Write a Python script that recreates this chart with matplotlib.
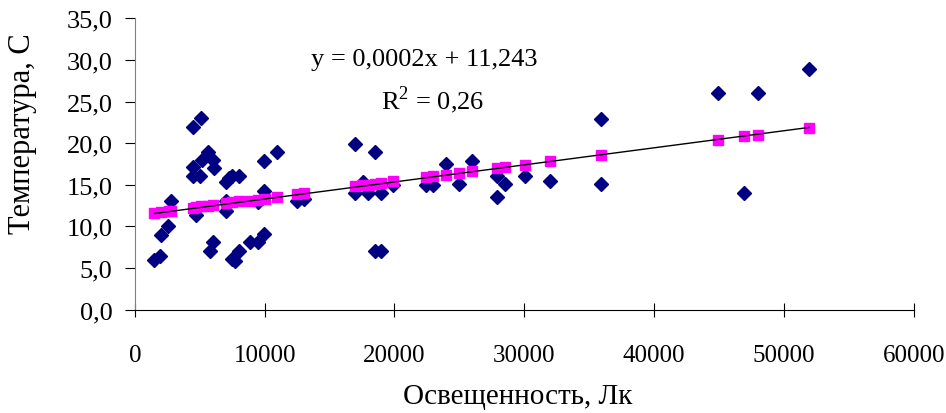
import matplotlib.pyplot as plt
import numpy as np

plt.rcParams['font.family'] = ['Liberation Serif', 'DejaVu Serif']
plt.rcParams['mathtext.fontset'] = 'custom'
plt.rcParams['mathtext.rm'] = 'Liberation Serif'

# measured points (lux, temperature)
lux = [1500, 1950, 2000, 2550, 2800, 4450, 5100, 5600, 5150, 6050,
       6100, 4450, 4450, 5050, 4750, 7000, 7250, 7500, 8000, 7000,
       7000, 6050, 5800, 7450, 7700, 8000, 8900, 9500, 9950, 9950,
       10950, 9950, 9500, 12470, 13000,
       16950, 18500, 16950, 17550, 17950, 18950, 19900, 18500, 18950, 22450,
       23000, 24000, 25000, 25950, 27900, 28500, 27900, 30050, 32000, 35900,
       35900, 44900, 46900, 48000, 51950]
temp = [6.0, 6.5, 9.0, 10.1, 13.1, 21.9, 23.0, 18.9, 18.0, 18.0,
        17.0, 17.1, 16.0, 16.0, 11.4, 15.3, 15.8, 16.1, 16.1, 13.1,
        11.9, 8.1, 7.1, 6.1, 5.9, 7.1, 8.1, 8.1, 9.1, 17.9,
        18.9, 14.2, 12.9, 13.0, 13.3,
        19.9, 18.9, 14.0, 15.3, 14.0, 14.0, 15.0, 7.0, 7.0, 15.0,
        15.0, 17.5, 15.1, 17.9, 16.1, 15.1, 13.5, 16.1, 15.4, 22.9,
        15.1, 26.0, 14.0, 26.0, 28.9]

# fitted values (pink squares)
lux_fit = [1500, 2000, 2600, 2800, 4450, 4750, 5100, 5600, 6050, 7000,
           7500, 8000, 8900, 9500, 10000, 10950, 12470, 13000, 16950, 17550,
           18000, 18500, 18950, 19900, 22450, 23000, 24000, 25000, 25950, 27900,
           28500, 30050, 32000, 35900, 44900, 46900, 48000, 51950]
temp_fit = [11.6, 11.7, 11.9, 11.9, 12.2, 12.3, 12.4, 12.5, 12.6, 12.8,
            12.9, 13.0, 13.1, 13.2, 13.3, 13.5, 13.9, 14.0, 14.8, 15.0,
            15.0, 15.1, 15.2, 15.4, 15.9, 16.0, 16.2, 16.4, 16.6, 17.0,
            17.1, 17.4, 17.8, 18.6, 20.4, 20.8, 21.0, 21.8]

slope = 0.000205
intercept = 11.243

fig = plt.figure(figsize=(9.46, 4.14), dpi=100)
ax = fig.add_axes([0.1425, 0.2495, 0.8235, 0.704])

ax.plot(lux, temp, 'D', color='#000080', ms=7.5, mec='#000080', zorder=3)
ax.plot(lux_fit, temp_fit, 's', color='#ff00ff', ms=7, zorder=4)
xx = np.array([min(lux), max(lux)])
ax.plot(xx, slope * xx + intercept, color='black', lw=1, zorder=5)

ax.set_xlim(0, 60000)
ax.set_ylim(0, 35)
ax.set_xticks(range(0, 60001, 10000))
ax.set_yticks(np.arange(0, 35.1, 5))
ax.set_yticklabels([('%.1f' % v).replace('.', ',') for v in np.arange(0, 35.1, 5)])

for s in ['top', 'right']:
    ax.spines[s].set_visible(False)
ax.spines['left'].set_color('#808080')
ax.spines['bottom'].set_color('black')
ax.tick_params(axis='x', direction='inout', length=10, labelsize=18, pad=20)
ax.tick_params(axis='y', direction='out', length=7, labelsize=19, pad=9)

ax.set_xlabel('Освещенность, Лк', fontsize=21, va='center')
ax.xaxis.set_label_coords(0.492, -0.296)
ax.set_ylabel('Температура, С', fontsize=22, va='center')
ax.yaxis.set_label_coords(-0.1448, 0.606)

fig.text(0.448, 0.855, 'y = 0,0002x + 11,243', ha='center', va='center', fontsize=19)
fig.text(0.457, 0.758, 'R$^{2}$ = 0,26', ha='center', va='center', fontsize=19)

fig.savefig('out.png', dpi=100)
